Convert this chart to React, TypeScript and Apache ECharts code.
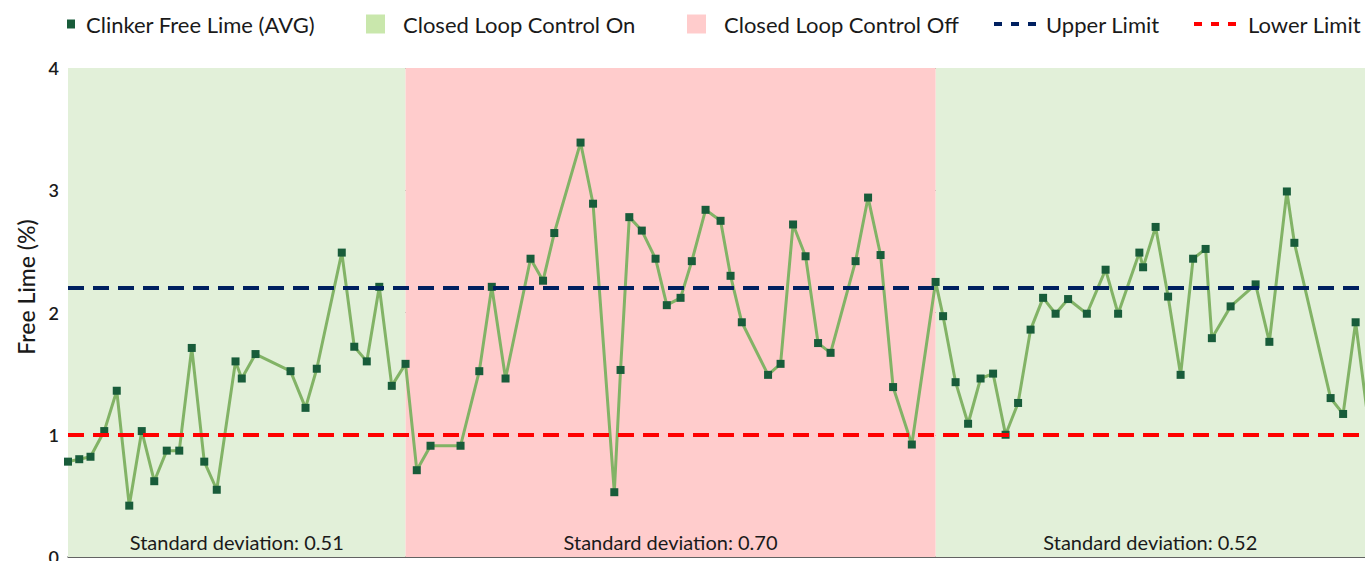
import React, { useEffect, useRef } from "react";
import * as echarts from "echarts";

// ---------- data ----------
const SERIES_NAME = "Clinker Free Lime (AVG)";
const ON_NAME = "Closed Loop Control On";
const OFF_NAME = "Closed Loop Control Off";
const UPPER_NAME = "Upper Limit";
const LOWER_NAME = "Lower Limit";
const Y_AXIS_NAME = "Free Lime (%)";

// sample time, hours from start
const hours = [
  0, 0.9, 1.8, 2.9, 3.9, 4.9, 5.9, 6.9, 7.9, 8.9, 9.9, 10.9, 11.9, 13.4, 13.9, 15.0, 17.8, 19.0, 19.9, 21.9,
  22.9, 23.9, 24.9, 25.9, 27.0,
  27.9, 29.0, 31.4, 32.9, 33.9, 35.0, 37.0, 38.0, 38.9, 41.0, 42.0, 43.7, 44.2, 44.9, 45.9, 47.0, 47.9,
  49.0, 49.9, 51.0, 52.2, 53.0, 53.9, 56.0, 57.0, 58.0, 59.0, 60.0, 61.0, 63.0, 64.0, 65.0, 66.0, 67.5, 69.4, 70.0,
  71.0, 72.0, 73.0, 74.0, 75.0, 76.0, 77.0, 78.0, 79.0, 80.0, 81.5, 83.0, 84.0, 85.7, 86.0, 87.0, 88.0, 89.0,
  90.0, 91.0, 91.5, 93.0, 95.0, 96.1, 97.5, 98.1, 101.0, 102.0, 103.0, 104.0,
];

// free lime, %
const freeLime = [
  0.78, 0.8, 0.82, 1.03, 1.36, 0.42, 1.03, 0.62, 0.87, 0.87, 1.71, 0.78, 0.55, 1.6, 1.46, 1.66, 1.52, 1.22, 1.54, 2.49,
  1.72, 1.6, 2.21, 1.4, 1.58,
  0.71, 0.91, 0.91, 1.52, 2.21, 1.46, 2.44, 2.26, 2.65, 3.39, 2.89, 0.53, 1.53, 2.78, 2.67, 2.44, 2.06,
  2.12, 2.42, 2.84, 2.75, 2.3, 1.92, 1.49, 1.58, 2.72, 2.46, 1.75, 1.67, 2.42, 2.94, 2.47, 1.39, 0.92, 2.25, 1.97,
  1.43, 1.09, 1.46, 1.5, 1.0, 1.26, 1.86, 2.12, 1.99, 2.11, 1.99, 2.35, 1.99, 2.49, 2.37, 2.7, 2.13, 1.49,
  2.44, 2.52, 1.79, 2.05, 2.23, 1.76, 2.99, 2.57, 1.3, 1.17, 1.92, 1.12,
];

const upperLimit = 2.2;
const lowerLimit = 1.0;

// control periods
const periodStarts = [0, 27.0, 69.4];
const periodEnds = [27.0, 69.4, 104.0];
const periodClosedLoopOn = [true, false, true];
const periodStdDevs = [0.51, 0.7, 0.52];

const yMin = 0;
const yMax = 4;
const yInterval = 1;

// ---------- style ----------
const FONT = "Lato";
const TEXT_COLOR = "#1a1a1a";
const LINE_COLOR = "#82B366";
const MARKER_COLOR = "#185C3A";
const ON_BAND = "#E2F0D9";
const ON_ICON = "#C9E7AC";
const OFF_BAND = "#FFCCCC";
const UPPER_COLOR = "#002060";
const LOWER_COLOR = "#FF0000";
const DASH_ICON = "path://M0,0h8v4h-8z M17,0h8v4h-8z M34,0h8v4h-8z";

export default function App() {
  const ref = useRef<HTMLDivElement>(null);

  useEffect(() => {
    if (!ref.current) return;
    document.body.style.overflow = "hidden";
    const chart = echarts.init(ref.current, null, { renderer: "svg" });

    const points = hours.map((h, i) => [h, freeLime[i]]);

    const bandData = (on: boolean) =>
      periodStarts
        .map((s, i) => ({ s, e: periodEnds[i], on: periodClosedLoopOn[i], sd: periodStdDevs[i] }))
        .filter((p) => p.on === on)
        .map((p) => [
          { xAxis: p.s, name: `Standard deviation: ${p.sd.toFixed(2)}` },
          { xAxis: p.e },
        ]);

    const bandLabel = {
      show: true,
      position: "insideBottom",
      distance: 5,
      formatter: "{b}",
      color: TEXT_COLOR,
      fontFamily: FONT,
      fontSize: 20,
    };

    const legendText = (padLeft: number) => ({
      fontFamily: FONT,
      fontSize: 22,
      color: TEXT_COLOR,
      padding: [0, 0, 0, padLeft],
    });

    const legendBase = { padding: 0, itemGap: 0, top: 13, selectedMode: false };

    const option: any = {
      animation: false,
      textStyle: { fontFamily: FONT },
      grid: {
        left: 68,
        right: 0,
        top: 68,
        bottom: 4,
        containLabel: false,
        outerBoundsMode: "none",
      },
      legend: [
        {
          ...legendBase,
          left: 67,
          itemWidth: 8,
          itemHeight: 9,
          textStyle: legendText(6),
          data: [{ name: SERIES_NAME, icon: "rect", itemStyle: { color: MARKER_COLOR } }],
        },
        {
          ...legendBase,
          left: 366,
          itemWidth: 19,
          itemHeight: 19,
          textStyle: legendText(13),
          data: [{ name: ON_NAME, icon: "rect", itemStyle: { color: ON_ICON } }],
        },
        {
          ...legendBase,
          left: 687,
          itemWidth: 19,
          itemHeight: 19,
          textStyle: legendText(13),
          data: [{ name: OFF_NAME, icon: "rect", itemStyle: { color: OFF_BAND } }],
        },
        {
          ...legendBase,
          left: 994,
          itemWidth: 42,
          itemHeight: 4,
          textStyle: legendText(5),
          data: [{ name: UPPER_NAME, icon: DASH_ICON, itemStyle: { color: UPPER_COLOR } }],
        },
        {
          ...legendBase,
          left: 1194,
          itemWidth: 42,
          itemHeight: 4,
          textStyle: legendText(7),
          data: [{ name: LOWER_NAME, icon: DASH_ICON, itemStyle: { color: LOWER_COLOR } }],
        },
      ],
      xAxis: {
        type: "value",
        min: 0,
        max: 103.75,
        axisLine: { show: true, lineStyle: { color: "#595959", width: 1.5 } },
        axisTick: { show: false },
        axisLabel: { show: false },
        splitLine: { show: false },
      },
      yAxis: {
        type: "value",
        min: yMin,
        max: yMax,
        interval: yInterval,
        axisLine: { show: false },
        axisTick: { show: false },
        axisLabel: { color: TEXT_COLOR, fontFamily: FONT, fontSize: 18, fontWeight: 600, margin: 9 },
        splitLine: { show: true, lineStyle: { color: "#808080", width: 1 } },
      },
      graphic: [
        {
          type: "text",
          x: 26,
          y: 287,
          rotation: Math.PI / 2,
          style: {
            text: Y_AXIS_NAME,
            fill: TEXT_COLOR,
            font: `500 23px ${FONT}`,
            textAlign: "center",
            textVerticalAlign: "middle",
          },
        },
      ],
      series: [
        {
          name: ON_NAME,
          type: "line",
          data: [],
          itemStyle: { color: ON_ICON },
          z: 0,
          markArea: {
            silent: true,
            itemStyle: { color: ON_BAND },
            label: bandLabel,
            data: bandData(true),
          },
        },
        {
          name: OFF_NAME,
          type: "line",
          data: [],
          itemStyle: { color: OFF_BAND },
          z: 0,
          markArea: {
            silent: true,
            itemStyle: { color: OFF_BAND },
            label: bandLabel,
            data: bandData(false),
          },
        },
        {
          name: UPPER_NAME,
          type: "line",
          data: [],
          itemStyle: { color: UPPER_COLOR },
          z: 3,
          markLine: {
            silent: true,
            symbol: "none",
            label: { show: false },
            lineStyle: { color: UPPER_COLOR, width: 4, type: [16, 9] },
            data: [{ yAxis: upperLimit }],
          },
        },
        {
          name: LOWER_NAME,
          type: "line",
          data: [],
          itemStyle: { color: LOWER_COLOR },
          z: 3,
          markLine: {
            silent: true,
            symbol: "none",
            label: { show: false },
            lineStyle: { color: LOWER_COLOR, width: 4, type: [16, 9] },
            data: [{ yAxis: lowerLimit }],
          },
        },
        {
          name: SERIES_NAME,
          type: "line",
          data: points,
          clip: true,
          z: 4,
          symbol: "rect",
          symbolSize: 8,
          showAllSymbol: true,
          itemStyle: { color: MARKER_COLOR },
          lineStyle: { color: LINE_COLOR, width: 3 },
        },
      ],
    };

    chart.setOption(option);
    return () => chart.dispose();
  }, []);

  return (
    <div
      ref={ref}
      style={{ position: "absolute", left: 0, top: 0, width: 1365, height: 561 }}
    />
  );
}
